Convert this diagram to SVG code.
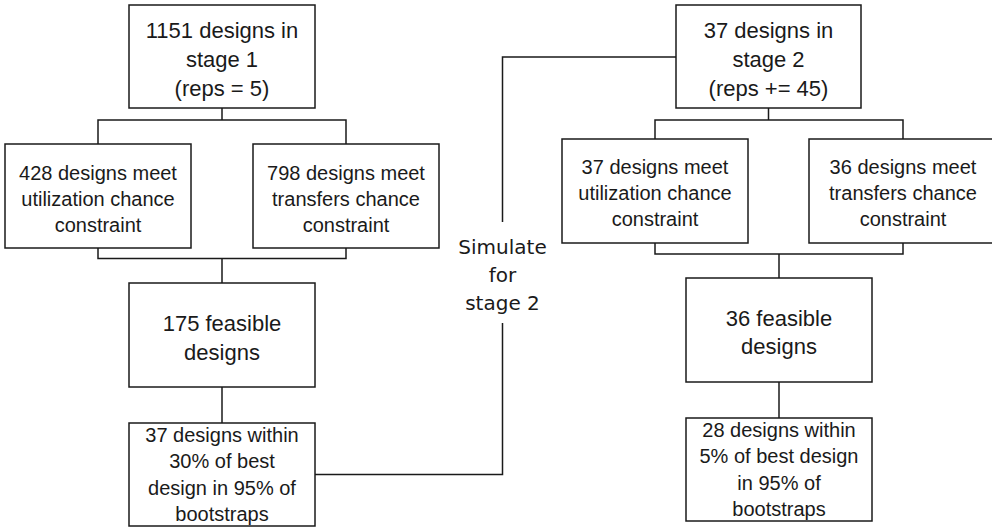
<svg xmlns="http://www.w3.org/2000/svg" width="992" height="527" viewBox="0 0 992 527">
<style>
.b{fill:#fff;stroke:#1a1a1a;stroke-width:1.5}
.c path{fill:none;stroke:#1a1a1a;stroke-width:1.5}
text{font-family:"Liberation Sans",Arial,sans-serif;fill:#1a1a1a;text-anchor:middle}
.l{font-size:22px}
.s{font-size:20px}
.d{font-family:"DejaVu Sans",sans-serif;font-size:20px}
</style>
<rect width="992" height="527" fill="#fff"/>
<g class="c" id="connectors">
<path d="M222 108V120M98 144V120H346V144"/>
<path d="M98 248V258.5H346V248M222 258.5V283"/>
<path d="M222 387V423"/>
<path d="M315 474.5H502.5V323M502.5 222V57H676"/>
<path d="M768.5 108V120M655 139V120H903V139"/>
<path d="M655 243V254H903V243M779 254V278"/>
<path d="M779 382V418"/>
</g>
<g id="n1"><rect class="b" x="129" y="5" width="186" height="103"/>
<text class="l" x="222" y="38">1151 designs in</text><text class="l" x="222" y="67">stage 1</text><text class="l" x="222" y="96">(reps = 5)</text></g>
<g id="n2"><rect class="b" x="5" y="144" width="186" height="104"/>
<text class="s" x="98" y="180">428 designs meet</text><text class="s" x="98" y="206">utilization chance</text><text class="s" x="98" y="232">constraint</text></g>
<g id="n3"><rect class="b" x="253" y="144" width="186" height="104"/>
<text class="s" x="346" y="180">798 designs meet</text><text class="s" x="346" y="206">transfers chance</text><text class="s" x="346" y="232">constraint</text></g>
<g id="n4"><rect class="b" x="129" y="283" width="186" height="104"/>
<text class="l" x="222" y="331">175 feasible</text><text class="l" x="222" y="359.5">designs</text></g>
<g id="n5"><rect class="b" x="129" y="423" width="186" height="103"/>
<text class="s" x="222" y="441.5">37 designs within</text><text class="s" x="222" y="468">30% of best</text><text class="s" x="222" y="494.5">design in 95% of</text><text class="s" x="222" y="521">bootstraps</text></g>
<g id="label"><text class="d" x="502.5" y="254">Simulate</text><text class="d" x="502.5" y="282">for</text><text class="d" x="502.5" y="310">stage 2</text></g>
<g id="n6"><rect class="b" x="676" y="5" width="185" height="103"/>
<text class="l" x="768.5" y="38">37 designs in</text><text class="l" x="768.5" y="67">stage 2</text><text class="l" x="768.5" y="96">(reps += 45)</text></g>
<g id="n7"><rect class="b" x="562" y="139" width="186" height="104"/>
<text class="s" x="655" y="174">37 designs meet</text><text class="s" x="655" y="200">utilization chance</text><text class="s" x="655" y="226">constraint</text></g>
<g id="n8"><rect class="b" x="809" y="139" width="188" height="104"/>
<text class="s" x="903" y="174">36 designs meet</text><text class="s" x="903" y="200">transfers chance</text><text class="s" x="903" y="226">constraint</text></g>
<g id="n9"><rect class="b" x="686" y="278" width="186" height="104"/>
<text class="l" x="779" y="325.5">36 feasible</text><text class="l" x="779" y="354">designs</text></g>
<g id="n10"><rect class="b" x="686" y="418" width="186" height="103"/>
<text class="s" x="779" y="436.5">28 designs within</text><text class="s" x="779" y="463">5% of best design</text><text class="s" x="779" y="489.5">in 95% of</text><text class="s" x="779" y="516">bootstraps</text></g>
</svg>
